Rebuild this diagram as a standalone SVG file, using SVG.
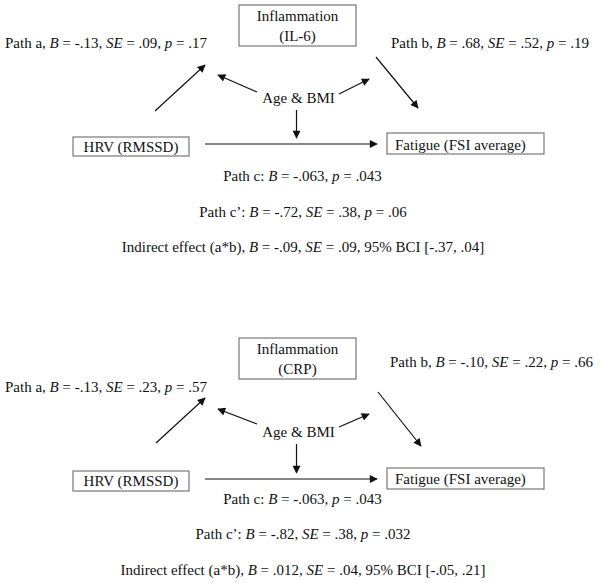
<svg xmlns="http://www.w3.org/2000/svg" width="603" height="583" viewBox="0 0 603 583">
<style>
text{font-family:"Liberation Serif","Times New Roman",serif;font-size:15px;fill:#111}
.i{font-style:italic}
.box{fill:#fff;stroke:#777;stroke-width:1.2}
.ln{stroke:#111;stroke-width:1.2;fill:none;marker-end:url(#ah)}
</style>
<defs>
<marker id="ah" viewBox="0 0 10 10" refX="9" refY="5" markerWidth="9" markerHeight="8" markerUnits="userSpaceOnUse" orient="auto">
<path d="M0,0 L10,5 L0,10 z" fill="#111"/>
</marker>
</defs>
<rect width="603" height="583" fill="#fff"/>

<!-- Top diagram -->
<g id="inflam1"><rect class="box" x="239" y="5" width="117" height="41"/><text x="297.5" y="21" text-anchor="middle">Inflammation</text><text x="297.5" y="41" text-anchor="middle">(IL-6)</text></g>
<g id="hrv1"><rect class="box" x="73" y="137" width="116" height="19"/><text x="131" y="152" text-anchor="middle">HRV (RMSSD)</text></g>
<g id="fatigue1"><rect class="box" x="387" y="133" width="157" height="21"/><text x="395" y="150">Fatigue (FSI average)</text></g>
<g id="age1"><text x="298.5" y="103" text-anchor="middle">Age &amp; BMI</text></g>
<g id="connectors1">
<line class="ln" x1="155" y1="111" x2="205" y2="65"/>
<line class="ln" x1="376" y1="57" x2="418" y2="108"/>
<line class="ln" x1="257" y1="92" x2="218" y2="75"/>
<line class="ln" x1="339" y1="94" x2="369" y2="79"/>
<line class="ln" x1="296.5" y1="110" x2="296.5" y2="138"/>
<line class="ln" x1="205" y1="144" x2="377" y2="144"/>
</g>
<g id="labels1">
<text x="5" y="48">Path a, <tspan class="i">B</tspan> = -.13, <tspan class="i">SE</tspan> = .09, <tspan class="i">p</tspan> = .17</text>
<text x="391" y="48">Path b, <tspan class="i">B</tspan> = .68, <tspan class="i">SE</tspan> = .52, <tspan class="i">p</tspan> = .19</text>
<text x="302.5" y="181" text-anchor="middle">Path c: <tspan class="i">B</tspan> = -.063, <tspan class="i">p</tspan> = .043</text>
<text x="303" y="217" text-anchor="middle">Path c’: <tspan class="i">B</tspan> = -.72, <tspan class="i">SE</tspan> = .38, <tspan class="i">p</tspan> = .06</text>
<text x="303" y="252" text-anchor="middle">Indirect effect (a*b), <tspan class="i">B</tspan> = -.09, <tspan class="i">SE</tspan> = .09, 95% BCI [-.37, .04]</text>
</g>

<!-- Bottom diagram -->
<g id="inflam2"><rect class="box" x="239" y="338" width="117" height="41"/><text x="297.5" y="354" text-anchor="middle">Inflammation</text><text x="297.5" y="374" text-anchor="middle">(CRP)</text></g>
<g id="hrv2"><rect class="box" x="73" y="471" width="116" height="20"/><text x="131" y="486" text-anchor="middle">HRV (RMSSD)</text></g>
<g id="fatigue2"><rect class="box" x="387" y="468" width="157" height="21"/><text x="395" y="484">Fatigue (FSI average)</text></g>
<g id="age2"><text x="298.5" y="437" text-anchor="middle">Age &amp; BMI</text></g>
<g id="connectors2">
<line class="ln" x1="156" y1="443" x2="205" y2="398"/>
<line class="ln" x1="378" y1="392" x2="421" y2="446"/>
<line class="ln" x1="257" y1="424" x2="218" y2="409"/>
<line class="ln" x1="339" y1="427" x2="369" y2="414"/>
<line class="ln" x1="296.5" y1="444" x2="296.5" y2="473"/>
<line class="ln" x1="205" y1="479" x2="377" y2="479"/>
</g>
<g id="labels2">
<text x="5" y="392">Path a, <tspan class="i">B</tspan> = -.13, <tspan class="i">SE</tspan> = .23, <tspan class="i">p</tspan> = .57</text>
<text x="390" y="367">Path b,  <tspan class="i">B</tspan> = -.10, <tspan class="i">SE</tspan> = .22, <tspan class="i">p</tspan> = .66</text>
<text x="302.5" y="504" text-anchor="middle">Path c: <tspan class="i">B</tspan> = -.063, <tspan class="i">p</tspan> = .043</text>
<text x="303" y="539" text-anchor="middle">Path c’: <tspan class="i">B</tspan> = -.82, <tspan class="i">SE</tspan> = .38, <tspan class="i">p</tspan> = .032</text>
<text x="303" y="575" text-anchor="middle">Indirect effect (a*b), <tspan class="i">B</tspan> = .012, <tspan class="i">SE</tspan> = .04, 95% BCI [-.05, .21]</text>
</g>
</svg>
